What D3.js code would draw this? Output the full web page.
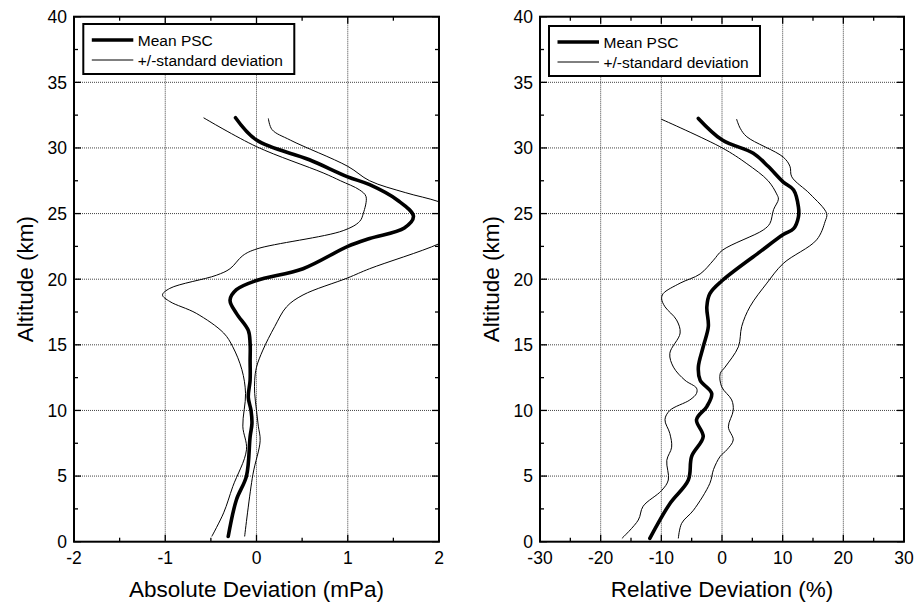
<!DOCTYPE html>
<html>
<head>
<meta charset="utf-8">
<script src="https://cdn.jsdelivr.net/npm/d3@7"></script>
<style>
	body { margin: 0; background: #fff; }
	text { font-family: "Liberation Sans", Arial, sans-serif; fill: #000; }
</style>
</head>
<body>
<svg id="chart" width="917" height="605"></svg>
<script>
// altitude axis (shared)
var altDomain = [0, 40],
	altTicks = [0, 5, 10, 15, 20, 25, 30, 35, 40];

// left panel: absolute deviation (mPa), points are [value, altitude km]
var absTicks = [-2, -1, 0, 1, 2];
var absMean = [[-0.23, 32.3], [0.0, 30.6], [0.58, 29.1], [1.0, 27.8], [1.24, 27.2], [1.55, 26.0], [1.72, 24.8], [1.62, 23.9],
	[1.24, 23.1], [1.0, 22.5], [0.51, 20.8], [0.0, 19.9], [-0.22, 19.2], [-0.29, 18.4], [-0.22, 17.4], [-0.09, 16.1],
	[-0.07, 15.1], [-0.07, 13.8], [-0.07, 12.3], [-0.09, 11.0], [-0.06, 10.0], [-0.05, 9.0], [-0.07, 8.0], [-0.11, 5.0],
	[-0.22, 3.2], [-0.31, 0.4]];
var absLow = [[-0.58, 32.3], [0.0, 30.1], [0.73, 28.1], [0.92, 27.5], [1.13, 26.8], [1.2, 26.3], [1.17, 25.0], [1.13, 24.4],
	[0.95, 23.7], [0.0, 22.3], [-0.15, 21.8], [-0.29, 20.8], [-0.44, 20.3], [-0.95, 19.3], [-1.03, 18.8], [-0.95, 18.3],
	[-0.66, 17.4], [-0.36, 15.9], [-0.26, 14.85], [-0.16, 13.1], [-0.12, 11.3], [-0.15, 8.8], [-0.11, 7.0], [-0.26, 4.2],
	[-0.36, 2.2], [-0.49, 0.4]];
var absHigh = [[0.13, 32.25], [0.17, 31.4], [0.37, 30.6], [1.0, 28.6], [1.24, 27.5], [1.63, 26.6], [2.0, 25.9], [2.3, 25.0],
	[2.35, 24.0], [2.0, 22.7], [1.24, 20.8], [1.0, 20.1], [0.51, 18.8], [0.33, 17.9], [0.2, 16.4], [0.07, 14.6],
	[0.0, 13.3], [-0.02, 12.3], [-0.02, 11.3], [0.0, 10.0], [0.02, 8.8], [0.04, 7.7], [-0.04, 5.1], [-0.13, 0.4]];

// right panel: relative deviation (%)
var relTicks = [-30, -20, -10, 0, 10, 20, 30];
var relMean = [[-3.9, 32.25], [0.05, 30.6], [5.16, 29.6], [7.6, 28.6], [10.1, 27.4], [11.8, 26.8], [12.6, 25.5], [12.6, 24.75],
	[11.8, 23.85], [10.1, 23.4], [6.3, 22.1], [0.05, 19.9], [-2.0, 18.9], [-2.5, 17.9], [-2.25, 16.4], [-3.1, 14.85],
	[-3.9, 13.3], [-3.6, 12.3], [-1.7, 11.3], [-2.5, 10.3], [-4.2, 9.3], [-3.1, 8.0], [-5.0, 6.5], [-5.55, 4.7],
	[-8.6, 2.9], [-11.9, 0.25]];
var relLow = [[-10.05, 32.2], [0.05, 30.0], [4.1, 28.8], [7.6, 27.5], [9.0, 26.5], [9.3, 26.1], [8.5, 25.3], [7.9, 24.25],
	[6.8, 23.75], [0.05, 22.2], [-1.4, 21.45], [-3.6, 20.4], [-6.9, 19.7], [-9.7, 18.9], [-9.95, 18.5], [-9.4, 17.9],
	[-7.5, 16.9], [-6.9, 15.9], [-8.6, 14.35], [-8.0, 13.3], [-6.1, 12.3], [-4.2, 11.7], [-4.2, 11.3], [-5.3, 10.8],
	[-8.6, 10.0], [-9.4, 9.3], [-8.6, 8.25], [-8.3, 7.2], [-9.1, 6.2], [-8.85, 4.7], [-9.95, 3.9], [-13.0, 2.7],
	[-13.8, 1.65], [-16.5, 0.25]];
var relHigh = [[2.4, 32.2], [3.0, 31.5], [4.1, 30.85], [10.1, 29.3], [11.2, 28.6], [11.5, 27.8], [14.5, 26.5], [17.25, 25.0],
	[17.0, 24.4], [15.6, 23.0], [10.1, 21.2], [7.4, 19.7], [4.6, 17.9], [3.25, 16.4], [2.7, 14.85], [0.5, 13.3],
	[-0.3, 12.8], [-0.05, 11.8], [1.6, 10.8], [1.85, 10.0], [1.05, 8.75], [1.85, 7.75], [0.8, 7.0], [-0.3, 6.5],
	[-1.4, 5.5], [-2.0, 4.45], [-4.7, 2.4], [-6.65, 1.4], [-7.2, 0.25]];

var legendLabels = ["Mean PSC", "+/-standard deviation"];

var svg = d3.select("#chart");

function drawPanel(opt) {
	var left = opt.left, right = opt.right, top = 16.7, bottom = 541.7;
	var x = d3.scaleLinear().domain(opt.domain).range([left, right]);
	var y = d3.scaleLinear().domain(altDomain).range([bottom, top]);
	var g = svg.append("g");
	var xStep = opt.ticks[1] - opt.ticks[0];
	var xMinor = d3.range(opt.domain[0] + xStep / 2, opt.domain[1], xStep);
	var yMinor = d3.range(2.5, 40, 5);

	// grid
	g.selectAll("line.gx").data(opt.ticks.slice(1, -1)).enter().append("line")
		.attr("x1", x).attr("x2", x).attr("y1", top).attr("y2", bottom)
		.attr("stroke", "#444").attr("stroke-width", 1).attr("stroke-dasharray", "1,1");
	g.selectAll("line.gy").data(altTicks.slice(1, -1)).enter().append("line")
		.attr("y1", y).attr("y2", y).attr("x1", left).attr("x2", right)
		.attr("stroke", "#444").attr("stroke-width", 1).attr("stroke-dasharray", "1,1");

	// ticks inward on all four sides
	var tk = g.append("g").attr("stroke", "#000").attr("stroke-width", 1.3);
	function xt(vals, len) {
		vals.forEach(function(v) {
			tk.append("line").attr("x1", x(v)).attr("x2", x(v)).attr("y1", bottom).attr("y2", bottom - len);
			tk.append("line").attr("x1", x(v)).attr("x2", x(v)).attr("y1", top).attr("y2", top + len);
		});
	}
	function yt(vals, len) {
		vals.forEach(function(v) {
			tk.append("line").attr("y1", y(v)).attr("y2", y(v)).attr("x1", left).attr("x2", left + len);
			tk.append("line").attr("y1", y(v)).attr("y2", y(v)).attr("x1", right).attr("x2", right - len);
		});
	}
	xt(opt.ticks, 7); xt(xMinor, 4);
	yt(altTicks, 7); yt(yMinor, 4);

	// curves
	var clipId = "clip" + opt.id;
	svg.append("clipPath").attr("id", clipId).append("rect")
		.attr("x", left).attr("y", top).attr("width", right - left).attr("height", bottom - top);
	var line = d3.line().x(function(d) { return x(d[0]); }).y(function(d) { return y(d[1]); })
		.curve(d3.curveCatmullRom.alpha(0.5));
	var curves = g.append("g").attr("clip-path", "url(#" + clipId + ")");
	[opt.low, opt.high].forEach(function(s) {
		curves.append("path").attr("d", line(s)).attr("fill", "none")
			.attr("stroke", "#000").attr("stroke-width", 1);
	});
	curves.append("path").attr("d", line(opt.mean)).attr("fill", "none")
		.attr("stroke", "#000").attr("stroke-width", 3.6).attr("stroke-linecap", "round");

	// frame
	g.append("rect").attr("x", left).attr("y", top).attr("width", right - left).attr("height", bottom - top)
		.attr("fill", "none").attr("stroke", "#000").attr("stroke-width", 2);

	// tick labels
	g.selectAll("text.xl").data(opt.ticks).enter().append("text")
		.attr("x", x).attr("y", bottom + 22).attr("text-anchor", "middle")
		.style("font-size", "17.5px").text(function(d) { return d; });
	g.selectAll("text.yl").data(altTicks).enter().append("text")
		.attr("x", left - 7).attr("y", y).attr("dy", "0.36em").attr("text-anchor", "end")
		.style("font-size", "17.5px").text(function(d) { return d; });

	// axis titles
	g.append("text").attr("x", (left + right) / 2).attr("y", 597).attr("text-anchor", "middle")
		.style("font-size", "22.5px").text(opt.title);
	g.append("text").attr("transform", "translate(" + (left - 41) + "," + ((top + bottom) / 2) + ") rotate(-90)")
		.attr("text-anchor", "middle").style("font-size", "22.5px").text("Altitude (km)");

	// legend
	var lg = g.append("g").attr("transform", "translate(" + (left + opt.legendDx) + "," + (top + opt.legendDy) + ")");
	lg.append("rect").attr("x", 0).attr("y", 0).attr("width", 211).attr("height", 50)
		.attr("fill", "#fff").attr("stroke", "#000").attr("stroke-width", 2);
	legendLabels.forEach(function(t, i) {
		var ly = 16 + i * 20;
		lg.append("line").attr("x1", 8.5).attr("x2", 50).attr("y1", ly).attr("y2", ly)
			.attr("stroke", "#000").attr("stroke-width", i == 0 ? 3.6 : 1);
		lg.append("text").attr("x", 54.5).attr("y", ly).attr("dy", "0.36em")
			.style("font-size", "15.5px").text(t);
	});
}

drawPanel({ id: 0, left: 74, right: 439, domain: [-2, 2], ticks: absTicks, mean: absMean, low: absLow, high: absHigh,
	title: "Absolute Deviation (mPa)", legendDx: 9.3, legendDy: 7.3 });
drawPanel({ id: 1, left: 540, right: 904, domain: [-30, 30], ticks: relTicks, mean: relMean, low: relLow, high: relHigh,
	title: "Relative Deviation (%)", legendDx: 9, legendDy: 9.3 });
</script>
</body>
</html>
